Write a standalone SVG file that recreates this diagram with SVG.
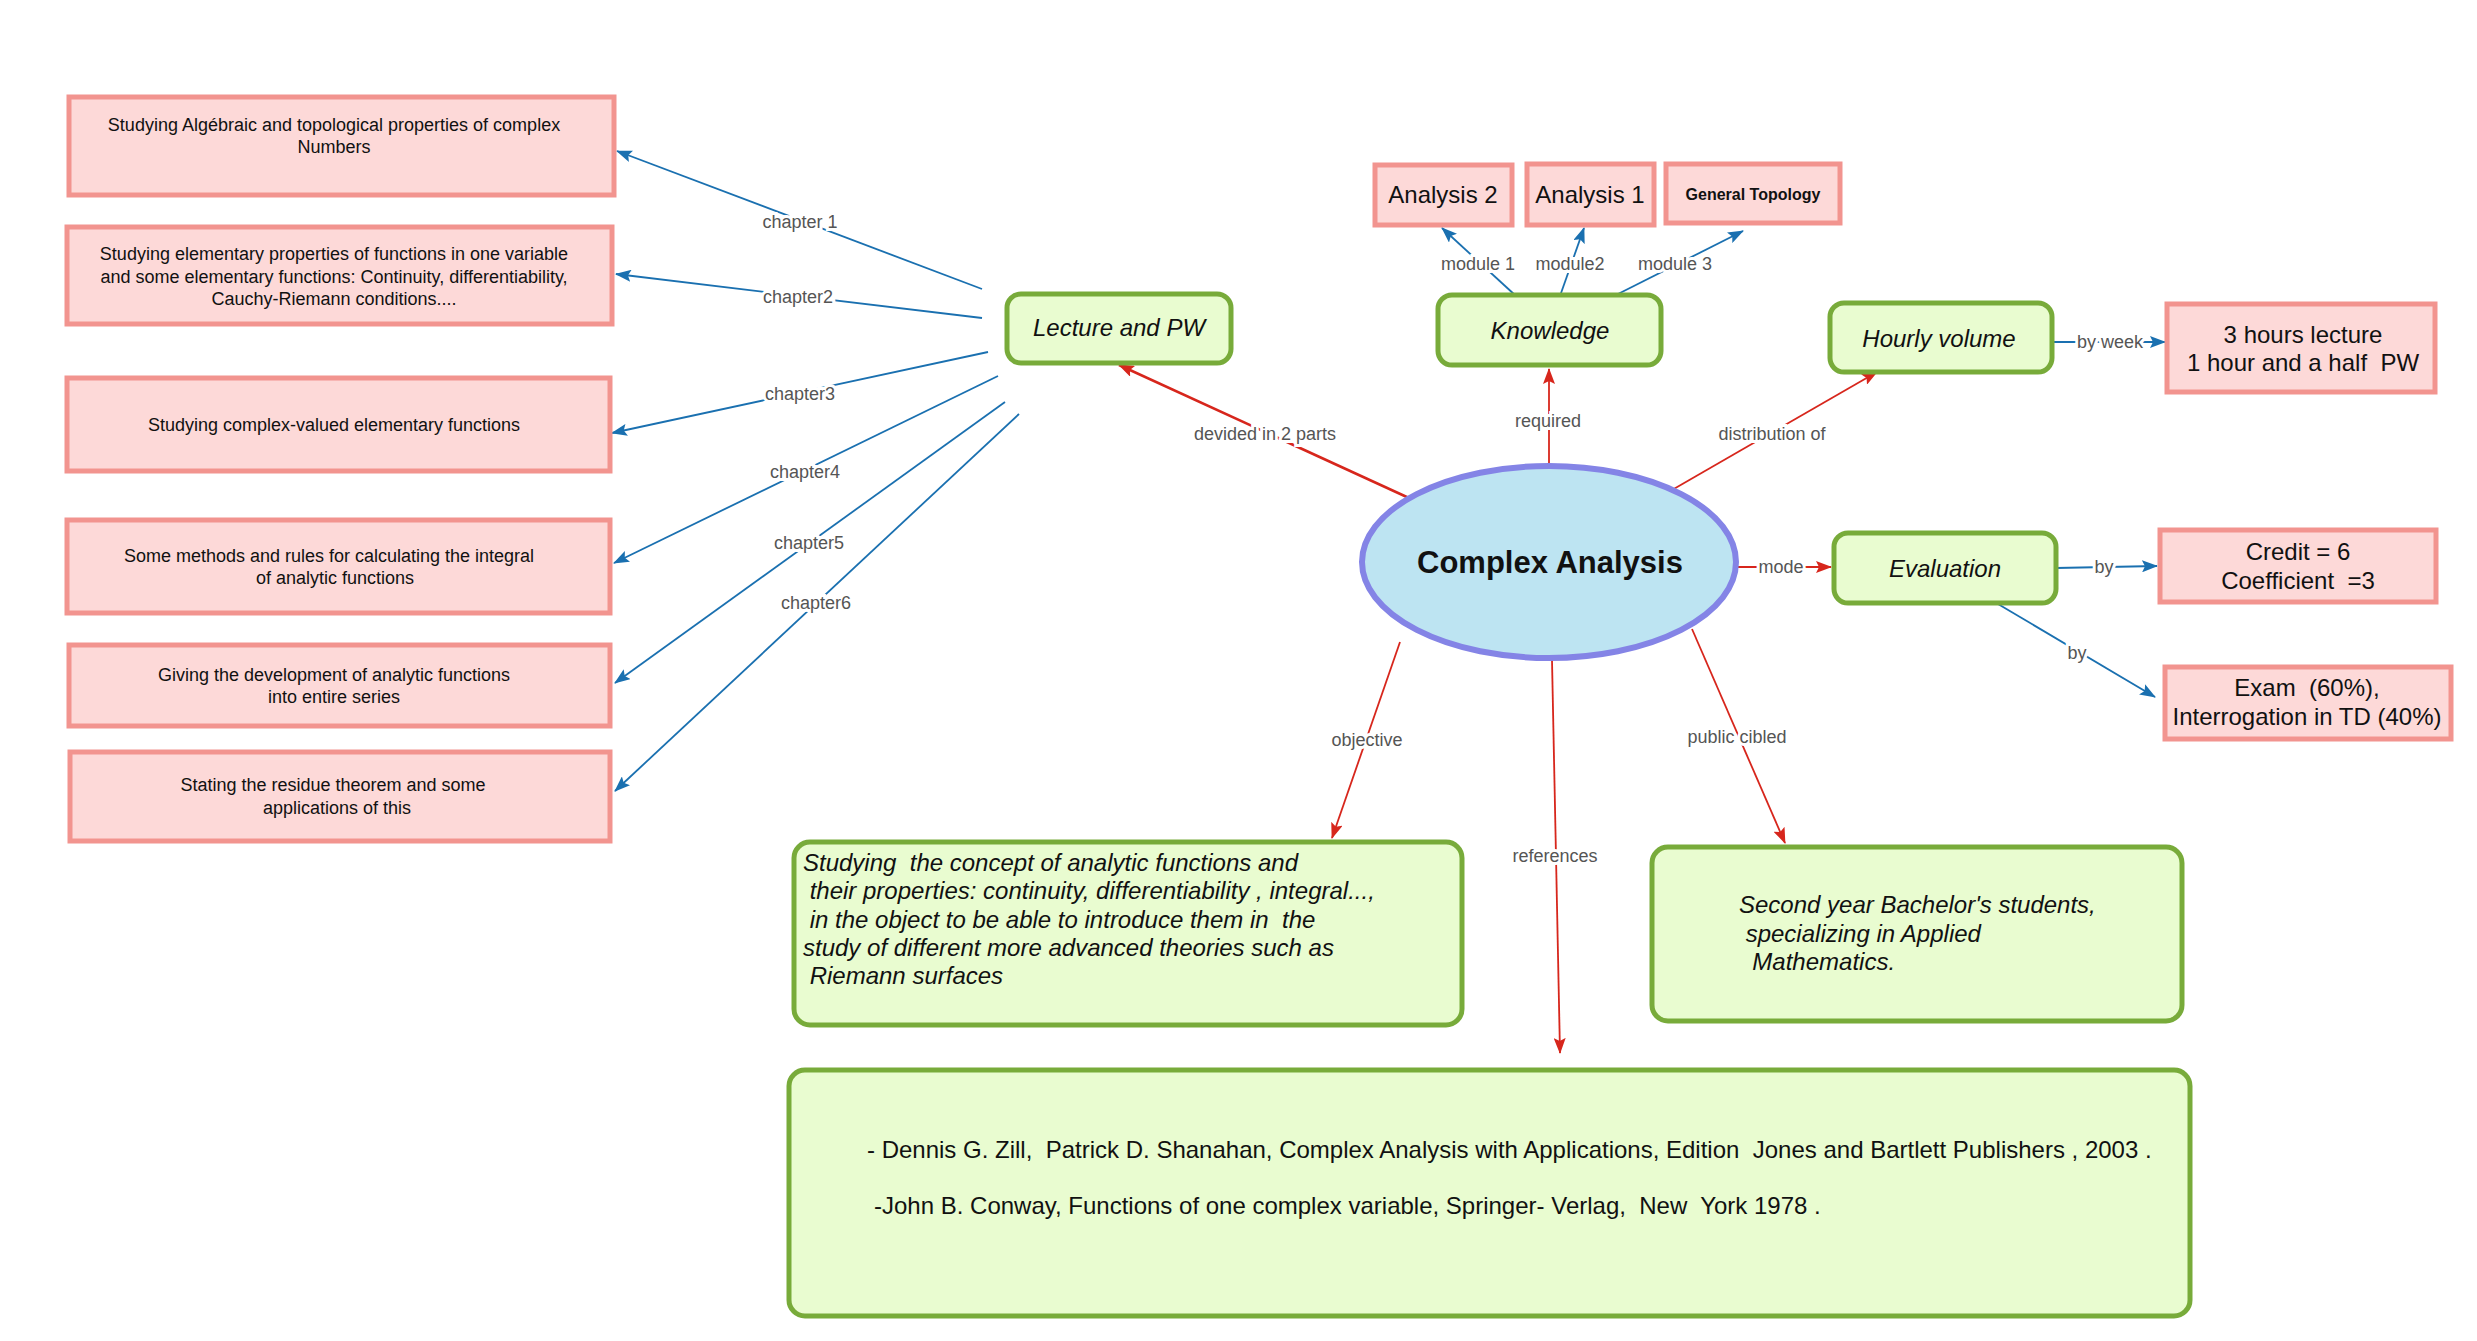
<svg xmlns="http://www.w3.org/2000/svg" width="2477" height="1341" viewBox="0 0 2477 1341">
<defs>
<marker id="ab" markerUnits="userSpaceOnUse" markerWidth="16" markerHeight="12" refX="15" refY="6" orient="auto"><path d="M0,0 L16,6 L0,12 L3,6 z" fill="#1a70b0"/></marker>
<marker id="ar" markerUnits="userSpaceOnUse" markerWidth="16" markerHeight="12" refX="15" refY="6" orient="auto"><path d="M0,0 L16,6 L0,12 L3,6 z" fill="#d7261c"/></marker>
</defs>
<style>
text{font-family:"Liberation Sans",Arial,sans-serif;fill:#111;white-space:pre}
.pink rect{fill:#fdd9d8;stroke:#f2948f;stroke-width:5}
.green rect{fill:#e9fcd0;stroke:#78ab3a;stroke-width:5}
.s{font-size:18px;text-anchor:middle}
.m{font-size:24px;text-anchor:middle}
.i{font-size:24px;font-style:italic}
.lbl{font-size:18px;fill:#555;text-anchor:middle;dominant-baseline:central;stroke:#fff;stroke-width:6;paint-order:stroke}
.b{stroke:#1a70b0;stroke-width:1.8;fill:none;marker-end:url(#ab)}
.r{stroke:#d7261c;stroke-width:1.8;fill:none;marker-end:url(#ar)}
</style>
<rect width="2477" height="1341" fill="#fff"/>
<g id="connectors">
<path class="b" d="M982,289 L617,151"/>
<path class="b" d="M982,318 L616,274"/>
<path class="b" d="M988,352 L612,433"/>
<path class="b" d="M998,376 L614,563"/>
<path class="b" d="M1005,402 L615,683"/>
<path class="b" d="M1019,414 L615,791"/>
<path class="r" style="stroke-width:2.6" d="M1409,498 L1119,365"/>
<path class="r" d="M1549,465 L1549,369"/>
<path class="r" d="M1672,490 L1877,372"/>
<path class="b" d="M1516,296 L1442,228"/>
<path class="b" d="M1560,296 L1584,228"/>
<path class="b" d="M1616,295 L1743,231"/>
<path class="b" d="M2052,342 L2165,342"/>
<path class="r" d="M1736,567 L1831,567"/>
<path class="b" d="M2056,568 L2157,566"/>
<path class="b" d="M1998,604 L2155,697"/>
<path class="r" d="M1400,642 L1332,838"/>
<path class="r" d="M1692,629 L1785,843"/>
<path class="r" d="M1552,660 L1560,1053"/>
<text class="lbl" x="800" y="222">chapter 1</text>
<text class="lbl" x="798" y="297">chapter2</text>
<text class="lbl" x="800" y="394">chapter3</text>
<text class="lbl" x="805" y="472">chapter4</text>
<text class="lbl" x="809" y="543">chapter5</text>
<text class="lbl" x="816" y="603">chapter6</text>
<text class="lbl" x="1265" y="434">devided in 2 parts</text>
<text class="lbl" x="1548" y="421">required</text>
<text class="lbl" x="1772" y="434">distribution of</text>
<text class="lbl" x="1478" y="264">module 1</text>
<text class="lbl" x="1570" y="264">module2</text>
<text class="lbl" x="1675" y="264">module 3</text>
<text class="lbl" x="2110" y="342">by week</text>
<text class="lbl" x="1781" y="567">mode</text>
<text class="lbl" x="2104" y="567">by</text>
<text class="lbl" x="2077" y="653">by</text>
<text class="lbl" x="1367" y="740">objective</text>
<text class="lbl" x="1737" y="737">public cibled</text>
<text class="lbl" x="1555" y="856">references</text>
</g>
<g id="n-ch1" class="pink"><rect x="69" y="97" width="545" height="98"/><text class="s" x="334" y="131">Studying Algébraic and topological properties of complex</text><text class="s" x="334" y="153">Numbers</text></g>
<g id="n-ch2" class="pink"><rect x="67" y="227" width="545" height="97"/><text class="s" x="334" y="260">Studying elementary properties of functions in one variable</text><text class="s" x="334" y="283">and some elementary functions: Continuity, differentiability,</text><text class="s" x="334" y="305">Cauchy-Riemann conditions....</text></g>
<g id="n-ch3" class="pink"><rect x="67" y="378" width="543" height="93"/><text class="s" x="334" y="431">Studying complex-valued elementary functions</text></g>
<g id="n-ch4" class="pink"><rect x="67" y="520" width="543" height="93"/><text class="s" x="329" y="562">Some methods and rules for calculating the integral</text><text class="s" x="335" y="584">of analytic functions</text></g>
<g id="n-ch5" class="pink"><rect x="69" y="645" width="541" height="81"/><text class="s" x="334" y="681">Giving the development of analytic functions</text><text class="s" x="334" y="703">into entire series</text></g>
<g id="n-ch6" class="pink"><rect x="70" y="752" width="540" height="89"/><text class="s" x="333" y="791">Stating the residue theorem and some</text><text class="s" x="337" y="814">applications of this</text></g>
<g id="n-lecture" class="green"><rect x="1007" y="294" width="224" height="69" rx="14"/><text class="i" x="1119" y="336" text-anchor="middle">Lecture and PW</text></g>
<g id="n-knowledge" class="green"><rect x="1438" y="295" width="223" height="70" rx="14"/><text class="i" x="1550" y="339" text-anchor="middle">Knowledge</text></g>
<g id="n-hourly" class="green"><rect x="1830" y="303" width="222" height="69" rx="14"/><text class="i" x="1939" y="347" text-anchor="middle">Hourly volume</text></g>
<g id="n-eval" class="green"><rect x="1834" y="533" width="222" height="70" rx="14"/><text class="i" x="1945" y="577" text-anchor="middle">Evaluation</text></g>
<g id="n-an2" class="pink"><rect x="1375" y="165" width="137" height="60"/><text class="m" x="1443" y="203">Analysis 2</text></g>
<g id="n-an1" class="pink"><rect x="1527" y="164" width="127" height="61"/><text class="m" x="1590" y="203">Analysis 1</text></g>
<g id="n-topo" class="pink"><rect x="1666" y="164" width="174" height="59"/><text x="1753" y="200" font-size="16" font-weight="bold" text-anchor="middle">General Topology</text></g>
<g id="n-hours" class="pink"><rect x="2167" y="304" width="268" height="88"/><text class="m" x="2303" y="343">3 hours lecture</text><text class="m" x="2303" y="371">1 hour and a half  PW</text></g>
<g id="n-credit" class="pink"><rect x="2160" y="530" width="276" height="72"/><text class="m" x="2298" y="560">Credit = 6</text><text class="m" x="2298" y="589">Coefficient  =3</text></g>
<g id="n-exam" class="pink"><rect x="2165" y="667" width="286" height="72"/><text class="m" x="2307" y="696">Exam  (60%),</text><text class="m" x="2307" y="725">Interrogation in TD (40%)</text></g>
<g id="n-main"><ellipse cx="1549" cy="562" rx="187" ry="96" fill="#bde4f2" stroke="#8484e6" stroke-width="6"/><text x="1550" y="573" font-size="31" font-weight="bold" text-anchor="middle">Complex Analysis</text></g>
<g id="n-objective" class="green"><rect x="794" y="842" width="668" height="183" rx="16"/>
<text class="i" x="803" y="871">Studying  the concept of analytic functions and</text>
<text class="i" x="803" y="899"> their properties: continuity, differentiability , integral...,</text>
<text class="i" x="803" y="928"> in the object to be able to introduce them in  the</text>
<text class="i" x="803" y="956">study of different more advanced theories such as</text>
<text class="i" x="803" y="984"> Riemann surfaces</text></g>
<g id="n-public" class="green"><rect x="1652" y="847" width="530" height="174" rx="16"/>
<text class="i" x="1739" y="913">Second year Bachelor's students,</text>
<text class="i" x="1739" y="942"> specializing in Applied</text>
<text class="i" x="1739" y="970">  Mathematics.</text></g>
<g id="n-references" class="green"><rect x="789" y="1070" width="1401" height="246" rx="16"/>
<text x="867" y="1158" font-size="24">- Dennis G. Zill,  Patrick D. Shanahan, Complex Analysis with Applications, Edition  Jones and Bartlett Publishers , 2003 .</text>
<text x="874" y="1214" font-size="24">-John B. Conway, Functions of one complex variable, Springer- Verlag,  New  York 1978 .</text></g>
</svg>
